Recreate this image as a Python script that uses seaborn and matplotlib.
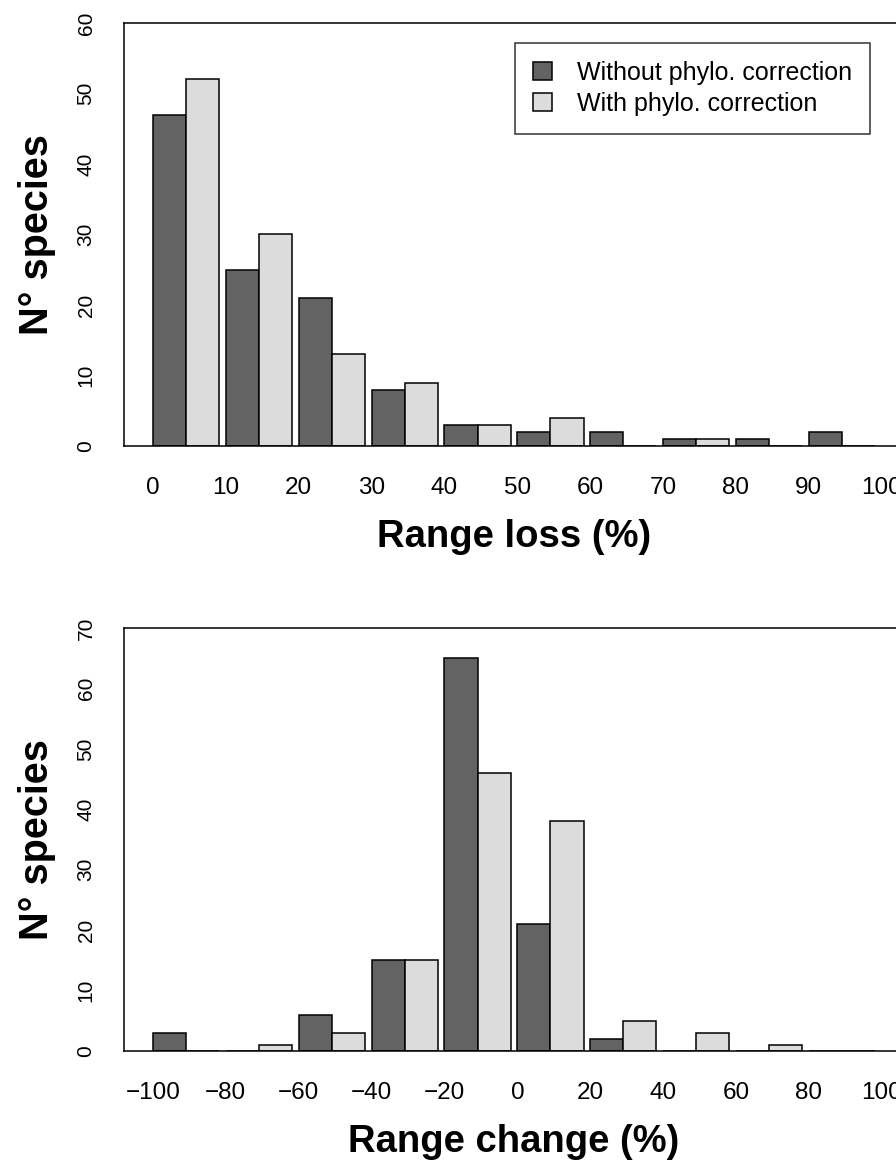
import numpy as np
import pandas as pd
import matplotlib
matplotlib.use("Agg")
import matplotlib.pyplot as plt
import seaborn as sns

# top panel: range loss bins 0-10 ... 90-100
loss_bins = ["0-10", "10-20", "20-30", "30-40", "40-50", "50-60", "60-70", "70-80", "80-90", "90-100"]
loss_without = [47, 25, 21, 8, 3, 2, 2, 1, 1, 2]
loss_with = [52, 30, 13, 9, 3, 4, 0, 1, 0, 0]
loss_ticks = ["0", "10", "20", "30", "40", "50", "60", "70", "80", "90", "100"]

# bottom panel: range change bins -100..-80 ... 80..100
change_bins = ["-100", "-80", "-60", "-40", "-20", "0", "20", "40", "60", "80"]
change_without = [3, 0, 6, 15, 65, 21, 2, 0, 0, 0]
change_with = [0, 1, 3, 15, 46, 38, 5, 3, 1, 0]
change_ticks = ["\u2212100", "\u221280", "\u221260", "\u221240", "\u221220", "0", "20", "40", "60", "80", "100"]

groups = ["Without phylo. correction", "With phylo. correction"]
dark = "#636363"
light = "#dcdcdc"

sns.set_style("white")
plt.rcParams["font.family"] = ["Liberation Sans", "DejaVu Sans"]
for k in ["text.color", "axes.labelcolor", "xtick.color", "ytick.color"]:
    plt.rcParams[k] = "black"


def long_df(bins, a, b):
    return pd.DataFrame({
        "bin": bins * 2,
        "count": a + b,
        "group": [groups[0]] * len(bins) + [groups[1]] * len(bins),
    })


fig = plt.figure(figsize=(8.96, 11.6), dpi=100)
W, H = 896, 1160
left, right = 124, 904
ax1 = fig.add_axes([left / W, 1 - 446 / H, (right - left) / W, 423 / H])
ax2 = fig.add_axes([left / W, 1 - 1051 / H, (right - left) / W, 423 / H])

bw = 2 / 2.2  # two bars + 0.2 gap per group


def draw(ax, df, ticks, ymax, xlabel, legend):
    sns.barplot(data=df, x="bin", y="count", hue="group", order=df["bin"].unique(),
                hue_order=groups, palette=[dark, light], width=bw,
                edgecolor="black", linewidth=1.1, ax=ax, legend=legend, saturation=1)
    ax.set_xlim(-0.851, 9.851)
    ax.set_ylim(0, ymax)
    ax.set_xticks(np.arange(11) - bw / 2)
    ax.set_xticklabels(ticks, fontsize=17.5)
    yt = np.arange(0, ymax + 1, 10)
    ax.set_yticks(yt)
    ax.set_yticklabels([str(v) for v in yt], fontsize=15, rotation=90, va="center")
    ax.tick_params(axis="x", length=0, pad=22.5)
    ax.tick_params(axis="y", length=0, pad=20.5)
    ax.set_xlabel(xlabel, fontsize=27.5, fontweight="bold", labelpad=14.5)
    ax.set_ylabel("N\u00b0 species", fontsize=28.5, fontweight="bold", labelpad=15)
    for s in ax.spines.values():
        s.set_visible(True)
        s.set_color("black")
        s.set_linewidth(1.1)


draw(ax1, long_df(loss_bins, loss_without, loss_with), loss_ticks, 60, "Range loss (%)", True)
draw(ax2, long_df(change_bins, change_without, change_with), change_ticks, 70, "Range change (%)", False)

leg = ax1.legend(loc="upper right", bbox_to_anchor=(870 / W, 1 - 43 / H),
                 bbox_transform=fig.transFigure, fontsize=18, frameon=True,
                 fancybox=False, edgecolor="black", handlelength=0.75, handleheight=0.75,
                 borderpad=0.72, labelspacing=0.27, handletextpad=1.0, borderaxespad=0)
leg.get_frame().set_linewidth(1.1)

fig.savefig("out.png", dpi=100)
